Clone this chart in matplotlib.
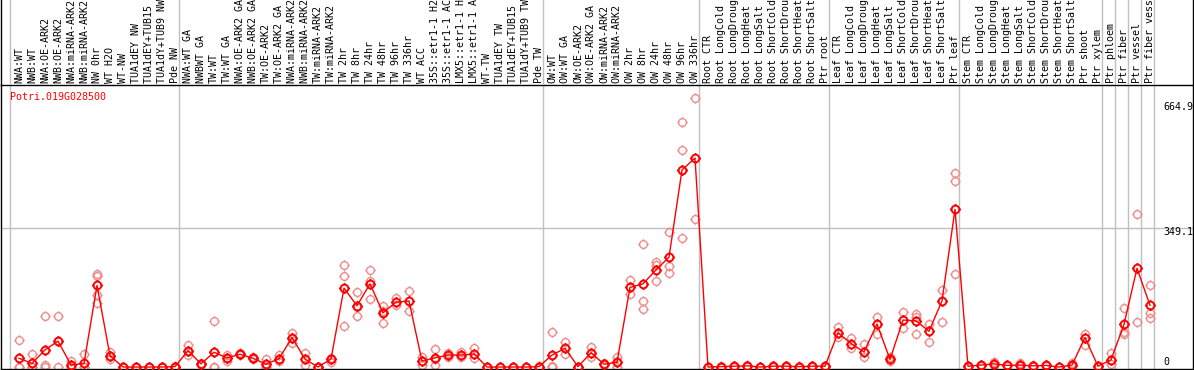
import numpy as np
import matplotlib.pyplot as plt
from matplotlib.path import Path
import matplotlib.transforms as mtransforms

gene = "Potri.019G028500"

samples = ["NWA:WT", "NWB:WT", "NWA:OE-ARK2", "NWB:OE-ARK2", "NWA:miRNA-ARK2", "NWB:miRNA-ARK2",
           "NW 0hr", "WT H2O", "WT-NW", "TUA1dEY NW", "TUA1dEY+TUB15 NW", "TUA1dY+TUB9 NW", "Pde NW",
           "NWA:WT GA", "NWBWT GA", "TW:WT", "TW:WT GA", "NWA:OE-ARK2 GA", "NWB:OE-ARK2 GA",
           "TW:OE-ARK2", "TW:OE-ARK2 GA", "NWA:miRNA-ARK2 GA", "NWB:miRNA-ARK2 GA", "TW:miRNA-ARK2",
           "TW:miRNA-ARK2 GA", "TW 2hr", "TW 8hr", "TW 24hr", "TW 48hr", "TW 96hr", "TW 336hr",
           "WT ACC", "35S::etr1-1 H2O", "35S::etr1-1 ACC", "LMX5::etr1-1 H2O", "LMX5::etr1-1 ACC",
           "WT-TW", "TUA1dEY TW", "TUA1dEY+TUB15 TW", "TUA1dY+TUB9 TW", "Pde TW",
           "OW:WT", "OW:WT GA", "OW:OE-ARK2", "OW:OE-ARK2 GA", "OW:miRNA-ARK2", "OW:miRNA-ARK2 GA",
           "OW 2hr", "OW 8hr", "OW 24hr", "OW 48hr", "OW 96hr", "OW 336hr",
           "Root CTR", "Root LongCold", "Root LongDrought", "Root LongHeat", "Root LongSalt",
           "Root ShortCold", "Root ShortDrought", "Root ShortHeat", "Root ShortSalt", "Ptr root",
           "Leaf CTR", "Leaf LongCold", "Leaf LongDrought", "Leaf LongHeat", "Leaf LongSalt",
           "Leaf ShortCold", "Leaf ShortDrought", "Leaf ShortHeat", "Leaf ShortSalt", "Ptr leaf",
           "Stem CTR", "Stem LongCold", "Stem LongDrought", "Stem LongHeat", "Stem LongSalt",
           "Stem ShortCold", "Stem ShortDrought", "Stem ShortHeat", "Stem ShortSalt", "Ptr shoot",
           "Ptr xylem", "Ptr phloem", "Ptr fiber", "Ptr vessel", "Ptr fiber vessel"]

group_sizes = [13, 28, 12, 10, 10, 11, 1, 1, 1, 1]

means = [22, 9, 43, 65, 5, 9, 205, 28, 0, 0, 0, 0, 1,
         41, 8, 37, 23, 32, 22, 7, 21, 74, 20, 0, 20, 198, 154, 209, 136, 163, 166,
         15, 23, 30, 30, 33, 0, 0, 0, 0, 1,
         30, 47, 1, 36, 7, 12, 200, 209, 244, 276, 495, 525,
         0, 1, 2, 3, 0, 2, 2, 1, 2, 2,
         86, 59, 38, 108, 19, 118, 116, 90, 166, 396,
         2, 5, 8, 4, 5, 3, 4, 0, 5, 74, 2,
         18, 107, 248, 155]

reps = [[68, 1, 0], [32, 1, 0], [127, 5, 1], [127, 65, 1], [16, 1, 0], [33, 0, 0],
        [233, 229, 181, 162], [38, 19, 27], [0, 0], [0, 0], [0, 0], [0, 0], [2, 0],
        [55, 29, 40], [10, 7, 8], [116, 0, 0], [30, 16, 23], [35, 29], [26, 19], [21, 1, 0],
        [29, 16], [85, 61, 74], [34, 5], [0, 0], [23, 13], [256, 229, 104], [188, 127, 150],
        [243, 217, 170], [153, 110, 140], [174, 156], [191, 140], [26, 5], [45, 5, 20],
        [35, 25], [38, 25], [49, 23], [0, 0], [0, 0], [0, 0], [0, 0], [2, 0],
        [88, 2, 0], [63, 33], [1, 0], [51, 24], [10, 4], [26, 0], [219, 183],
        [309, 166, 146], [264, 256, 216], [338, 255, 236], [616, 544, 323], [675, 372],
        [1, 0], [2, 0], [3, 1], [5, 2], [1, 0], [3, 1], [3, 1], [2, 0], [3, 1], [3, 1],
        [100, 76], [72, 49], [58, 26], [125, 83], [24, 15], [137, 97], [133, 126, 83],
        [107, 62], [193, 112], [487, 467, 234],
        [3, 1], [6, 3], [13, 4], [5, 3], [10, 2], [4, 2], [5, 2], [1, 0], [10, 2], [83, 55], [3, 1],
        [34, 8], [149, 87, 82], [384, 112], [205, 136, 124]]

y_ticks = [0, 349.1, 664.9]
y_tick_labels = ["0", "349.1", "664.9"]

W, H = 1194, 370
fig = plt.figure(figsize=(W / 100, H / 100), dpi=100)
ax = fig.add_axes([1 / W, 1 / H, 1192 / W, 284 / H])
top = fig.add_axes([1 / W, 285 / H, 1192 / W, 85 / H])

# one column every 13 px, first point 18 px from the frame
xlim = ((1 - 19) / 13, (1193 - 19) / 13)
ax.set_xlim(*xlim)
top.set_xlim(*xlim)
ax.set_ylim(-5, 708.5)
top.set_ylim(0, 1)

for a in (ax, top):
    a.set_xticks([])
    a.set_yticks([])
    a.patch.set_alpha(0)
    for s in a.spines.values():
        s.set_linewidth(1)
        s.set_color("black")
top.spines["top"].set_visible(False)
top.spines["bottom"].set_visible(False)

bounds = np.concatenate([[0], np.cumsum(group_sizes)]) - 9 / 13
for b in bounds:
    ax.axvline(b, color="#c0c0c0", lw=1, zorder=1)
    top.axvline(b, color="#c0c0c0", lw=1, zorder=1)
ax.axhline(y_ticks[1], color="#c0c0c0", lw=1, zorder=1)

# open circle with four small ticks
circ = Path.unit_circle()
verts = list(circ.vertices)
codes = list(circ.codes)
for dx, dy in [(0, 1), (0, -1), (1, 0), (-1, 0)]:
    verts += [(dx, dy), (dx * 1.35, dy * 1.35)]
    codes += [Path.MOVETO, Path.LINETO]
ring = Path(verts, codes)

x = np.arange(len(means))
rx = np.concatenate([[i] * len(r) for i, r in enumerate(reps)])
ry = np.concatenate(reps)

ax.plot(rx, ry, ls="none", marker=ring, ms=7.5, mfc="none", mec="#f08c8c", mew=1.0, zorder=2)
ax.plot(x, means, color="red", lw=1, zorder=3)
ax.plot(x, means, ls="none", marker=ring, ms=7.5, mfc="none", mec="red", mew=1.4, zorder=4)

mono = "DejaVu Sans Mono"
trans = mtransforms.blended_transform_factory(top.transData, top.transAxes)
for i, lab in enumerate(samples):
    top.text(i, 2 / 85, lab, rotation=90, ha="center", va="bottom", fontsize=7.2,
             family=mono, transform=trans)

fig.text(10 / W, 1 - 97 / H, gene, color="red", fontsize=7.2, family=mono, va="center", ha="left")

for v, t, dy in zip(y_ticks, y_tick_labels, [5, -4, -4.5]):
    ax.annotate(t, xy=(1, v), xycoords=("axes fraction", "data"), xytext=(-30, dy),
                textcoords="offset pixels", ha="left", va="center", fontsize=7.2, family=mono)

fig.savefig("out.png", dpi=100)
